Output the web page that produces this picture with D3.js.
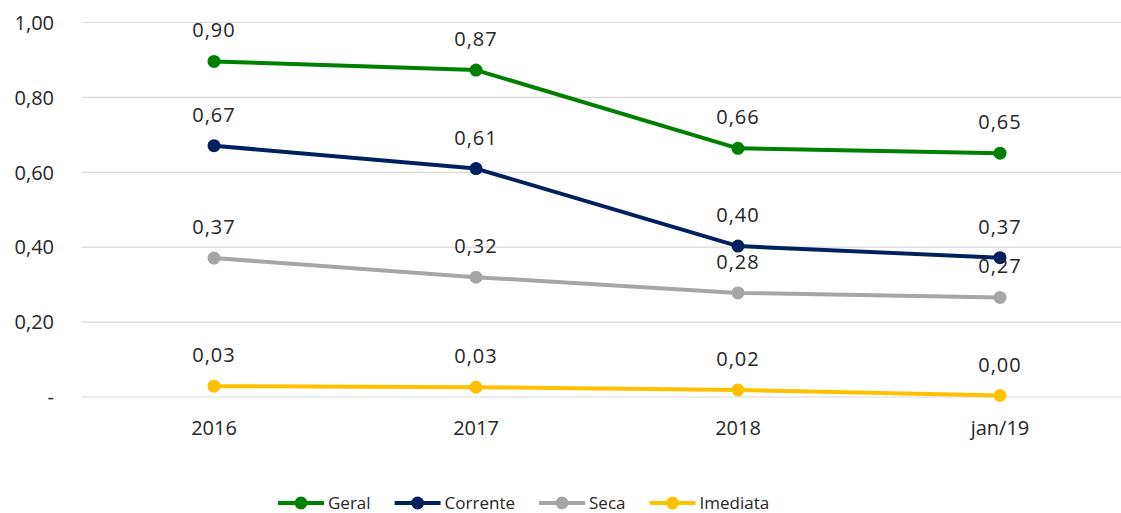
<!DOCTYPE html>
<html>
<head>
<meta charset="utf-8">
<script src="https://cdn.jsdelivr.net/npm/d3@7"></script>
<style>
  body { margin: 0; background: #fff; }
  svg text { font-family: "Open Sans", sans-serif; fill: #262626; }
</style>
</head>
<body>
<svg id="chart" width="1121" height="513"></svg>
<script>
// Data
const categories = ['2016', '2017', '2018', 'jan/19'];
const geral = [0.896, 0.873, 0.664, 0.651];
const corrente = [0.671, 0.610, 0.403, 0.372];
const seca = [0.371, 0.320, 0.278, 0.266];
const imediata = [0.029, 0.026, 0.019, 0.004];
const yTicks = [0, 0.2, 0.4, 0.6, 0.8, 1.0];

const series = [
    { name: 'Geral', values: geral, color: '#008000' },
    { name: 'Corrente', values: corrente, color: '#002060' },
    { name: 'Seca', values: seca, color: '#a6a6a6' },
    { name: 'Imediata', values: imediata, color: '#ffc000' }
];

const svg = d3.select('#chart');
const plotLeft = 82, plotRight = 1121;

const x = d3.scalePoint().domain(categories).range([214, 1000]);
const y = d3.scaleLinear().domain([0, 1]).range([397, 22.5]);

const fmt = v => v === 0 ? '-' : d3.format('.2f')(v).replace('.', ',');

// gridlines
svg.append('g').selectAll('line')
    .data(yTicks)
    .enter().append('line')
    .attr('x1', plotLeft).attr('x2', plotRight)
    .attr('y1', d => y(d)).attr('y2', d => y(d))
    .attr('stroke', '#d9d9d9').attr('stroke-width', 1.2);

// y labels
svg.append('g').selectAll('text')
    .data(yTicks)
    .enter().append('text')
    .attr('x', 54).attr('y', d => y(d))
    .attr('dy', '0.36em')
    .attr('text-anchor', 'end')
    .style('font-size', '20px')
    .text(fmt);

// x labels
svg.append('g').selectAll('text')
    .data(categories)
    .enter().append('text')
    .attr('x', d => x(d)).attr('y', 435)
    .attr('text-anchor', 'middle')
    .style('font-size', '20px')
    .text(d => d);

const line = d3.line()
    .x((d, i) => x(categories[i]))
    .y(d => y(d));

series.forEach(s => {
    const g = svg.append('g');
    g.append('path')
        .attr('d', line(s.values))
        .attr('fill', 'none')
        .attr('stroke', s.color)
        .attr('stroke-width', 4)
        .attr('stroke-linejoin', 'round');
    g.selectAll('circle')
        .data(s.values)
        .enter().append('circle')
        .attr('cx', (d, i) => x(categories[i]))
        .attr('cy', d => y(d))
        .attr('r', 6.5)
        .attr('fill', s.color);
    g.selectAll('text')
        .data(s.values)
        .enter().append('text')
        .attr('x', (d, i) => x(categories[i]))
        .attr('y', d => y(d) - 24)
        .attr('text-anchor', 'middle')
        .style('font-size', '20px')
        .style('letter-spacing', '1px')
        .text(d => d3.format('.2f')(d).replace('.', ','));
});

// legend
const legend = svg.append('g').attr('transform', 'translate(278,503)');
let lx = 0;
series.forEach(s => {
    const item = legend.append('g').attr('transform', `translate(${lx},0)`);
    item.append('line')
        .attr('x1', 0).attr('x2', 46)
        .attr('stroke', s.color).attr('stroke-width', 4);
    item.append('circle')
        .attr('cx', 23).attr('r', 6.5).attr('fill', s.color);
    const t = item.append('text')
        .attr('x', 50).attr('dy', '0.36em')
        .style('font-size', '17px')
        .text(s.name);
    lx += 50 + t.node().getComputedTextLength() + 24;
});
</script>
</body>
</html>
